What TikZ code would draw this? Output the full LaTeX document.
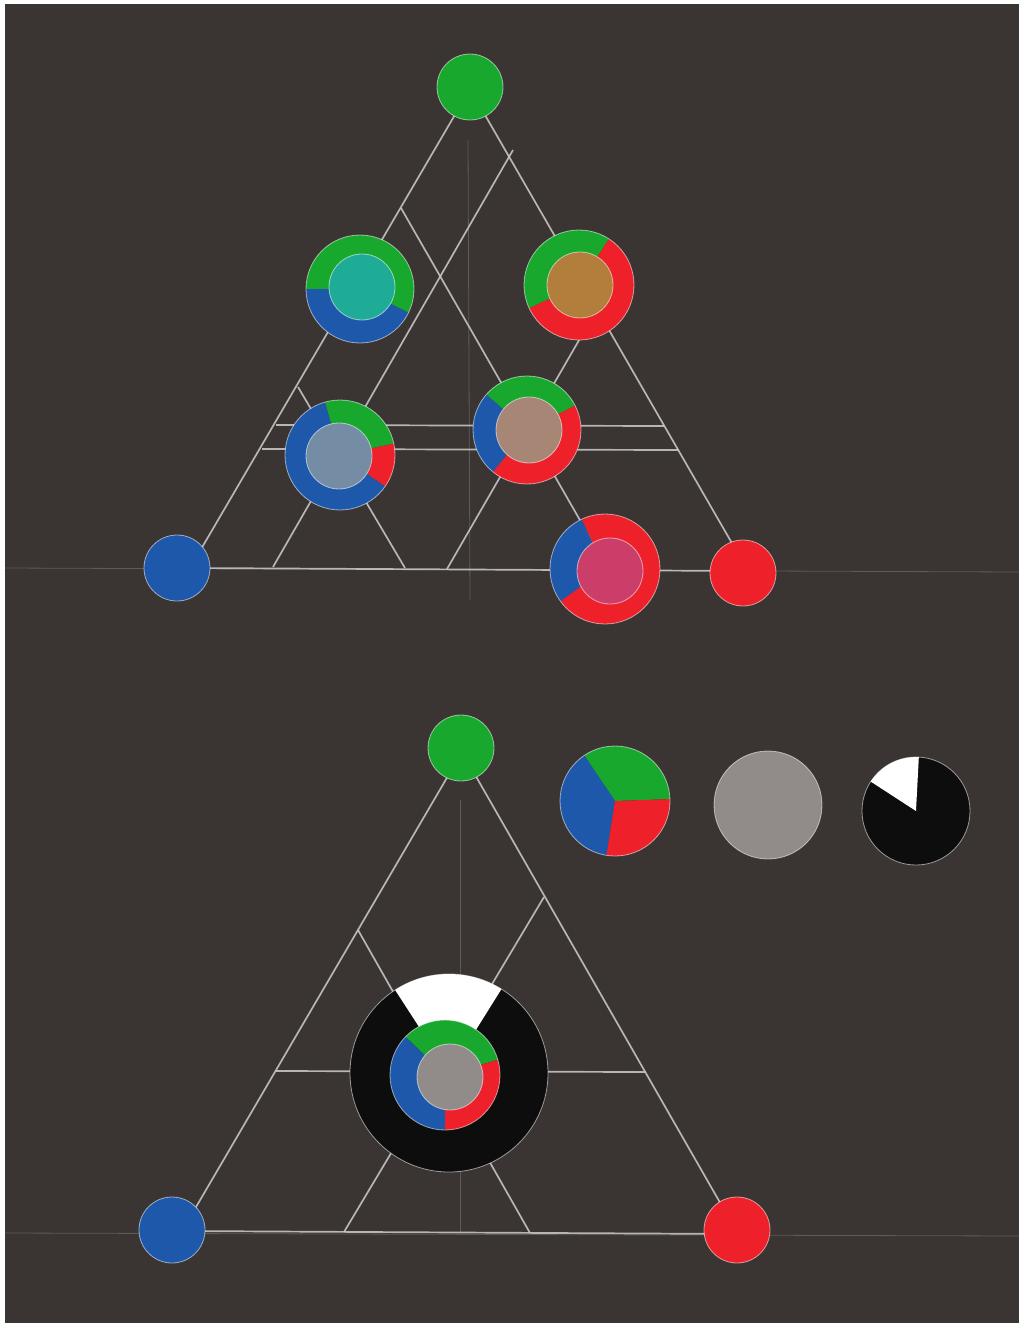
\documentclass[tikz,border=0pt]{standalone}
\usetikzlibrary{calc}
\definecolor{bgc}{RGB}{58,52,50}
\definecolor{gcol}{RGB}{24,168,46}
\definecolor{bcol}{RGB}{30,88,170}
\definecolor{rcol}{RGB}{238,32,42}
\definecolor{teal}{RGB}{30,172,150}
\definecolor{ochre}{RGB}{178,126,60}
\definecolor{greyblue}{RGB}{116,140,164}
\definecolor{beige}{RGB}{168,134,118}
\definecolor{pinkc}{RGB}{204,62,106}
\definecolor{greyc}{RGB}{145,140,138}
\definecolor{blackc}{RGB}{14,13,13}
\definecolor{pencilc}{RGB}{205,205,205}
% visual-angle sector: centre, radius, from, to, colour
\newcommand{\mysector}[5]{%
  \fill[#5] (#1) -- ++({-(#3)}:#2) arc[start angle={-(#3)}, end angle={-(#4)}, radius=#2] -- cycle;}
\tikzset{
  pencil/.style={draw=pencilc, line width=1.7pt, opacity=0.85},
  faint/.style={draw=pencilc, line width=0.8pt, opacity=0.25},
  rim/.style={draw=white, line width=0.8pt, draw opacity=0.55},
}
\begin{document}
\begin{tikzpicture}[x=1pt,y=-1pt]
\useasboundingbox (0,0) rectangle (1019,1328);
\fill[white] (0,0) rectangle (1019,1328);
\fill[bgc] (5,4) rectangle (1019,1323);

% faint construction lines
\draw[faint] (5,568) -- (1019,572);
\draw[faint] (5,1233) -- (1019,1236);
\draw[faint] (468,140) -- (470,600);
\draw[faint] (460,800) -- (460,1232);

% ---- top triangle ----
\coordinate (TA) at (470,89);
\coordinate (TL) at (190,568);
\coordinate (TR) at (748,571);
\draw[pencil] (TA) -- (TL) -- (TR) -- cycle;
\coordinate (l1a) at (513,150); \coordinate (l1b) at (273,567);
\coordinate (l2a) at (401,208); \coordinate (l2b) at (608,569);
\coordinate (l3a) at (298,387); \coordinate (l3b) at (405,568);
\coordinate (l4a) at (597,309); \coordinate (l4b) at (447,569);
\coordinate (h1a) at (276,425); \coordinate (h1b) at (664,426);
\coordinate (h2a) at (262,449); \coordinate (h2b) at (678,450);
\draw[pencil] (l1a) -- (l1b);
\draw[pencil] (l2a) -- (l2b);
\draw[pencil] (l3a) -- (l3b);
\draw[pencil] (l4a) -- (l4b);
\draw[pencil] (h1a) -- (h1b);
\draw[pencil] (h2a) -- (h2b);

% ---- bottom triangle ----
\coordinate (BA) at (462,752);
\coordinate (BL) at (182,1231);
\coordinate (BR) at (738,1234);
\draw[pencil] (BA) -- (BL) -- (BR) -- cycle;
\coordinate (m1a) at (358,930); \coordinate (m1b) at (530,1233);
\coordinate (m2a) at (544,897); \coordinate (m2b) at (344,1232);
\coordinate (hba) at (276,1071); \coordinate (hbb) at (645,1072);
\draw[pencil] (m1a) -- (m1b);
\draw[pencil] (m2a) -- (m2b);
\draw[pencil] (hba) -- (hbb);

% ---- primary dots ----
\fill[gcol, rim] (470,87) circle[radius=33];
\fill[bcol, rim] (177,568) circle[radius=33];
\fill[rcol, rim] (743,573) circle[radius=33];
\fill[gcol, rim] (461,748) circle[radius=33];
\fill[bcol, rim] (172,1230) circle[radius=33];
\fill[rcol, rim] (737,1230) circle[radius=33];

% ---- rings, top triangle ----
% R1 green/blue -> teal
\coordinate (r1) at (360,289);
\mysector{r1}{54}{-26}{180}{gcol}
\mysector{r1}{54}{180}{334}{bcol}
\draw[rim] (r1) circle[radius=54];
\fill[teal, rim] (362,287) circle[radius=33];
% R2 green/red -> ochre
\coordinate (r2) at (579,285);
\mysector{r2}{55}{57}{205}{gcol}
\mysector{r2}{55}{205}{417}{rcol}
\draw[rim] (r2) circle[radius=55];
\fill[ochre, rim] (580,285) circle[radius=33];
% R3 blue dominant -> grey blue
\coordinate (r3) at (340,455);
\mysector{r3}{55}{12}{106}{gcol}
\mysector{r3}{55}{-35}{12}{rcol}
\mysector{r3}{55}{106}{325}{bcol}
\draw[rim] (r3) circle[radius=55];
\fill[greyblue, rim] (339,456) circle[radius=33];
% R4 centre -> beige
\coordinate (r4) at (527,430);
\mysector{r4}{54}{27}{139}{gcol}
\mysector{r4}{54}{139}{231}{bcol}
\mysector{r4}{54}{231}{387}{rcol}
\draw[rim] (r4) circle[radius=54];
\fill[beige, rim] (529,430) circle[radius=33];
% R5 red/blue -> pink
\coordinate (r5) at (605,569);
\mysector{r5}{55}{115}{216}{bcol}
\mysector{r5}{55}{216}{475}{rcol}
\draw[rim] (r5) circle[radius=55];
\fill[pinkc, rim] (610,571) circle[radius=33];

% ---- big disc, bottom triangle ----
\coordinate (bd) at (449,1073);
\fill[blackc] (bd) circle[radius=99];
\mysector{bd}{99}{58}{123}{white}
\draw[rim] (bd) circle[radius=99];
\coordinate (bdr) at (445,1075);
\mysector{bdr}{55}{16}{136}{gcol}
\mysector{bdr}{55}{136}{270}{bcol}
\mysector{bdr}{55}{270}{376}{rcol}
\draw[rim] (bdr) circle[radius=55];
\fill[greyc, rim] (450,1077) circle[radius=33];

% ---- legend discs ----
\coordinate (tri) at (615,801);
\mysector{tri}{55}{2}{124}{gcol}
\mysector{tri}{55}{124}{261}{bcol}
\mysector{tri}{55}{261}{362}{rcol}
\draw[rim] (tri) circle[radius=55];
\fill[greyc, rim] (768,805) circle[radius=54];
\coordinate (bw) at (916,811);
\fill[blackc] (bw) circle[radius=54];
\mysector{bw}{54}{87}{147}{white}
\draw[rim] (bw) circle[radius=54];
\end{tikzpicture}
\end{document}
